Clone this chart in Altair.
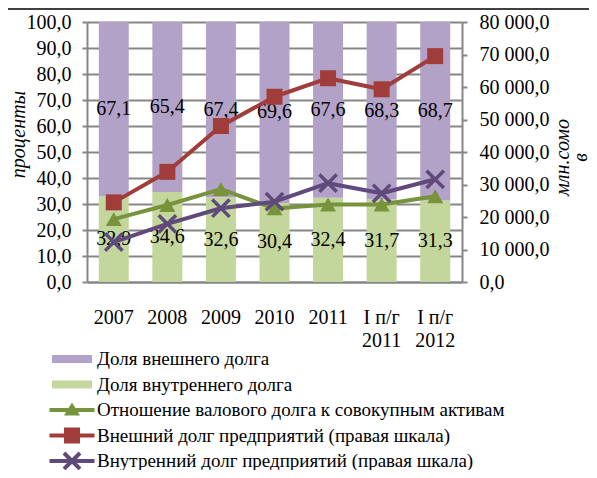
import altair as alt
import pandas as pd

categories = ["2007", "2008", "2009", "2010", "2011", "I п/г 2011", "I п/г 2012"]
ext_share = [67.1, 65.4, 67.4, 69.6, 67.6, 68.3, 68.7]
int_share = [32.9, 34.6, 32.6, 30.4, 32.4, 31.7, 31.3]
debt_ratio = [24.2, 29.6, 35.7, 28.3, 29.8, 29.8, 33.0]
ext_debt = [24500, 33900, 48000, 57000, 62700, 59300, 69500]
int_debt = [12300, 17900, 22700, 24700, 30400, 27300, 31600]

series = [
    "Доля внешнего долга",
    "Доля внутреннего долга",
    "Отношение валового долга к совокупным активам",
    "Внешний долг предприятий (правая шкала)",
    "Внутренний долг предприятий (правая шкала)",
]

C_PURPLE_BAR = "#B3A2C7"
C_GREEN_BAR = "#C3D69B"
C_GREEN = "#77933C"
C_RED = "#A03D3A"
C_PURPLE = "#604A7B"
GRID = "#868686"
FONT = "'Liberation Serif', 'Times New Roman', serif"

bar_rows = []
for i, c in enumerate(categories):
    bar_rows.append({"cat": c, "series": series[1], "value": int_share[i], "order": 0})
    bar_rows.append({"cat": c, "series": series[0], "value": ext_share[i], "order": 1})
bar_df = pd.DataFrame(bar_rows)
ratio_df = pd.DataFrame({"cat": categories, "value": debt_ratio})
ext_df = pd.DataFrame({"cat": categories, "value": ext_debt})
int_df = pd.DataFrame({"cat": categories, "value": int_debt})
legend_df = pd.DataFrame({"series": series})

x_enc = alt.X(
    "cat:N",
    sort=categories,
    scale=alt.Scale(domain=categories, paddingInner=0, paddingOuter=0),
    axis=alt.Axis(
        title=None, labelAngle=0, ticks=False, domain=True, domainColor=GRID,
        domainWidth=2, labelFont=FONT, labelFontSize=20, labelColor="black",
        labelPadding=25, labelLineHeight=23.5, labelLimit=0,
        labelExpr="indexof(datum.label, 'п/г') >= 0 ? [slice(datum.label, 0, 5), slice(datum.label, 6)] : datum.label",
    ),
)

yl_scale = alt.Scale(domain=[0, 100], nice=False)
yl_axis = alt.Axis(
    values=list(range(0, 101, 10)),
    labelExpr="replace(format(datum.value, '.1f'), '.', ',')",
    title="проценты", titleFont=FONT, titleFontSize=20, titleFontStyle="italic",
    titleFontWeight="normal", titleColor="black", titleX=-69, titleY=112,
    titleAngle=270, titleAlign="center", titleBaseline="middle",
    grid=True, gridColor=GRID, gridWidth=2, domainColor=GRID, domainWidth=2,
    tickColor=GRID, tickWidth=2, tickSize=5, labelPadding=11,
    labelFont=FONT, labelFontSize=20, labelColor="black",
)
yr_scale = alt.Scale(domain=[0, 80000], nice=False)
yr_axis = alt.Axis(
    orient="right",
    values=list(range(0, 80001, 10000)),
    labelExpr="replace(replace(format(datum.value, ',.1f'), ',', ' '), '.', ',')",
    title=["млн.сомо", "в"], titleFont=FONT, titleFontSize=20, titleFontStyle="italic",
    titleFontWeight="normal", titleColor="black", titleX=100, titleY=135,
    titleAngle=270, titleAlign="center", titleBaseline="middle", titleLineHeight=18,
    grid=False, domainColor=GRID, domainWidth=2,
    tickColor=GRID, tickWidth=2, tickSize=5, labelPadding=12,
    labelFont=FONT, labelFontSize=20, labelColor="black",
)

stacked = alt.Chart(bar_df).transform_stack(
    stack="value", groupby=["cat"], as_=["v0", "v1"],
    sort=[alt.SortField("order", order="ascending")],
)
bars = stacked.mark_bar(size=30).encode(
    x=x_enc,
    y=alt.Y("v0:Q", scale=yl_scale, axis=yl_axis),
    y2="v1:Q",
    fill=alt.Fill("series:N", scale=alt.Scale(domain=series[:2], range=[C_PURPLE_BAR, C_GREEN_BAR]), legend=None),
)
labels = stacked.transform_calculate(
    mid="(datum.v0 + datum.v1) / 2",
    lab="replace(format(datum.value, '.1f'), '.', ',')",
).mark_text(font=FONT, fontSize=20, color="black", align="center", baseline="middle").encode(
    x=x_enc,
    y=alt.Y("mid:Q", scale=yl_scale, axis=yl_axis),
    text="lab:N",
)

green_line = alt.Chart(ratio_df).mark_line(color=C_GREEN, strokeWidth=4, strokeJoin="round").encode(
    x=x_enc, y=alt.Y("value:Q", scale=yl_scale, axis=yl_axis))
green_pts = alt.Chart(ratio_df).mark_point(shape="triangle-up", filled=True, size=256, color=C_GREEN, opacity=1).encode(
    x=x_enc, y=alt.Y("value:Q", scale=yl_scale, axis=yl_axis))

red_line = alt.Chart(ext_df).mark_line(color=C_RED, strokeWidth=4, strokeJoin="round").encode(
    x=x_enc, y=alt.Y("value:Q", scale=yr_scale, axis=yr_axis))
red_pts = alt.Chart(ext_df).mark_point(shape="square", filled=True, size=256, color=C_RED, opacity=1).encode(
    x=x_enc, y=alt.Y("value:Q", scale=yr_scale, axis=yr_axis))
purple_line = alt.Chart(int_df).mark_line(color=C_PURPLE, strokeWidth=4, strokeJoin="round").encode(
    x=x_enc, y=alt.Y("value:Q", scale=yr_scale, axis=yr_axis))
purple_pts = alt.Chart(int_df).mark_point(shape="M-1,-1L1,1M-1,1L1,-1", filled=False, size=300,
                                          strokeWidth=3.5, color=C_PURPLE, opacity=1).encode(
    x=x_enc, y=alt.Y("value:Q", scale=yr_scale, axis=yr_axis))

sym_bar = "M-2,-0.4H2V0.4H-2Z"
line_part = "M-2.25,-0.2H2.25V0.2H-2.25Z"
sym_tri = line_part + " M0,-0.75L0.8,0.55L-0.8,0.55Z"
sym_sq = line_part + " M-0.8,-0.8H0.8V0.8H-0.8Z"
sym_x = (line_part + " M-0.659,-0.941L0.941,0.659L0.659,0.941L-0.941,-0.659Z"
         " M-0.941,0.659L0.659,-0.941L0.941,-0.659L-0.659,0.941Z")

leg = alt.Legend(title=None, orient="none", legendX=-25, legendY=327, direction="vertical")
legend_layer = alt.Chart(legend_df).transform_filter("false").mark_point(filled=True, opacity=1).encode(
    color=alt.Color("series:N", scale=alt.Scale(domain=series, range=[C_PURPLE_BAR, C_GREEN_BAR, C_GREEN, C_RED, C_PURPLE]), legend=leg),
    shape=alt.Shape("series:N", scale=alt.Scale(domain=series, range=[sym_bar, sym_bar, sym_tri, sym_sq, sym_x]), legend=leg),
)

top_rule = alt.Chart(pd.DataFrame({"a": [0]})).mark_rule(color="black", strokeWidth=1.5).encode(
    x=alt.value(-79), x2=alt.value(502), y=alt.value(-13))

left = alt.layer(bars, labels, green_line, green_pts)
right = alt.layer(red_line, red_pts, purple_line, purple_pts)

chart = alt.layer(left, right, legend_layer, top_rule).resolve_scale(y="independent").properties(
    width=375, height=260,
    autosize=alt.AutoSizeParams(type="none"),
    padding={"left": 79, "top": 14, "right": 127, "bottom": 188},
    background="white",
).configure_view(stroke=None).configure_legend(
    labelFont=FONT, labelFontSize=19, labelColor="black", labelLimit=0,
    symbolSize=400, symbolStrokeWidth=0, symbolOpacity=1, labelOffset=15,
    rowPadding=5.5, padding=0,
)

chart.save("out.html", embed_options={"renderer": "svg", "actions": False})
